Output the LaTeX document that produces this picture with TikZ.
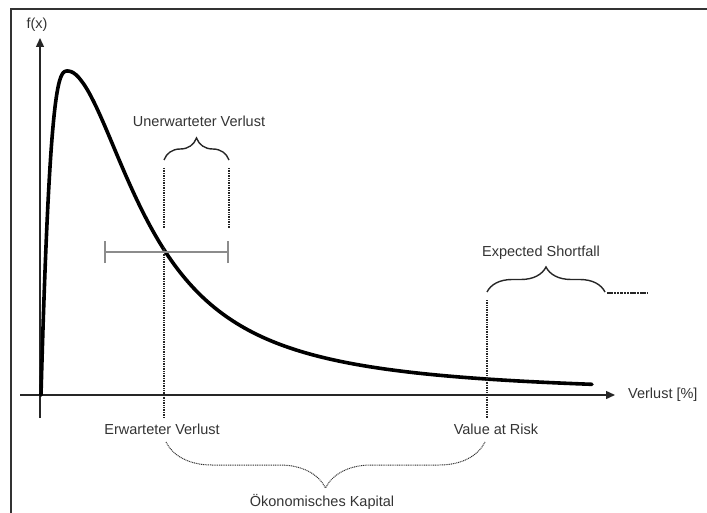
\documentclass[tikz,border=0pt]{standalone}
\usepackage{fontspec}
\setmainfont{Liberation Sans}
\usetikzlibrary{arrows.meta,decorations.pathreplacing}
\begin{document}
\begin{tikzpicture}[x=1bp,y=-1bp,
  lbl/.style={font=\fontsize{14.5bp}{17bp}\selectfont,text=black!80,inner sep=0pt},
  axis/.style={line width=1.4bp,black!85,-{Triangle[length=9bp,width=8bp]}},
  density/.style={line width=3.6bp,black,line join=round,line cap=round},
  marker/.style={line width=2.2bp,black!85,dash pattern=on 1bp off 0.7bp},
  spanbar/.style={line width=1.3bp,black!45},
  bracebig/.style={line width=1.4bp,black!85,decorate,decoration={brace,amplitude=#1}},
  bracedot/.style={line width=1bp,black!80,dash pattern=on 1bp off 0.8bp,decorate,decoration={brace,mirror,amplitude=#1}}]
  \useasboundingbox (0,0) rectangle (707,513);

  % frame (top and left edges only)
  \draw[line width=2bp,black!80] (707,9) -- (11,9) -- (11,513);

  % axes
  \coordinate (ybot) at (40,418);
  \coordinate (ytop) at (40,38);
  \coordinate (xleft) at (20,395);
  \coordinate (xright) at (615,395);
  \draw[axis] (ybot) -- (ytop);
  \draw[axis] (xleft) -- (xright);
  \node[lbl] (fx) at (37,25) {f(x)};
  \node[lbl,anchor=west] (xlab) at (628,395) {Verlust [\%]};

  % loss density: steep rise to the mode, long right tail
  \draw[density]
    plot[domain=41:68,samples=40] (\x,{395-324*(1-((68-\x)/27)^3)})
    -- plot[domain=68.01:592,samples=200] (\x,{395-324/(1+((\x-68)/86)^1.87)});

  % expected loss and unexpected loss markers
  \coordinate (el1) at (164,168);
  \coordinate (el2) at (164,228);
  \coordinate (el3) at (164,247);
  \coordinate (el4) at (164,418);
  \coordinate (ul1) at (229,168);
  \coordinate (ul2) at (229,228);
  \draw[marker] (el1) -- (el2);
  \draw[marker] (el3) -- (el4);
  \draw[marker] (ul1) -- (ul2);

  % span bar around the expected loss
  \coordinate (barl) at (105,252);
  \coordinate (barr) at (228,252);
  \draw[spanbar] (barl) -- (barr);
  \draw[spanbar] ([yshift=-11bp]barl) -- ([yshift=11bp]barl);
  \draw[spanbar] ([yshift=-11bp]barr) -- ([yshift=11bp]barr);

  % unexpected loss brace
  \coordinate (ulbl) at (164,160);
  \coordinate (ulbr) at (229,160);
  \draw[bracebig=22bp] (ulbl) -- (ulbr);
  \node[lbl] (ul) at (199,121) {Unerwarteter Verlust};

  % value at risk marker
  \coordinate (var1) at (487,300);
  \coordinate (var2) at (487,418);
  \draw[marker] (var1) -- (var2);

  % expected shortfall brace, continued by a dotted tail
  \coordinate (esbl) at (487,292);
  \coordinate (esbr) at (605,292);
  \draw[bracebig=25bp] (esbl) -- (esbr);
  \coordinate (tail1) at (607,293);
  \coordinate (tail2) at (647,293);
  \draw[line width=1.6bp,black!85,dash pattern=on 2.5bp off 0.8bp] (tail1) -- (tail2);
  \node[lbl] (es) at (541,253) {Expected Shortfall};

  % axis labels below
  \node[lbl] (el) at (162,429) {Erwarteter Verlust};
  \node[lbl] (var) at (496,429) {Value at Risk};

  % economic capital brace
  \coordinate (ecl) at (166,442);
  \coordinate (ecr) at (485,442);
  \draw[bracedot=46bp] (ecl) -- (ecr);
  \node[lbl] (ec) at (322,502) {Ökonomisches Kapital};
\end{tikzpicture}
\end{document}
